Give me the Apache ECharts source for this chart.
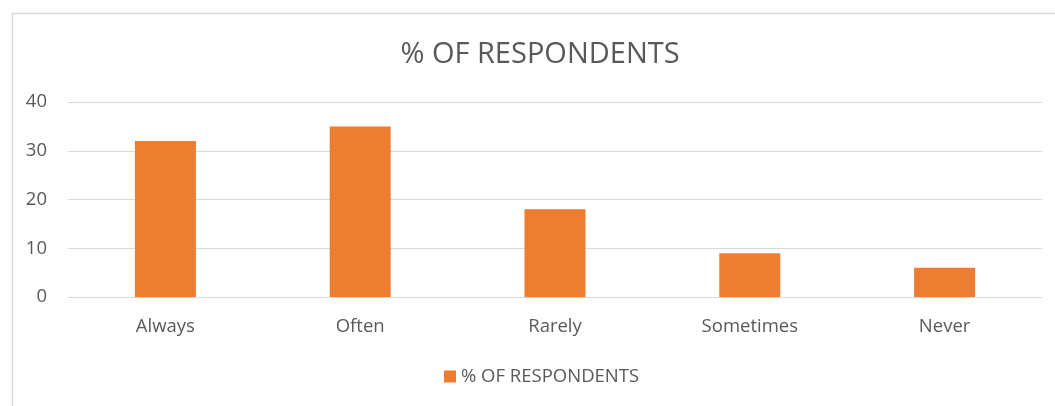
<!DOCTYPE html>
<html><head><meta charset="utf-8">
<script src="https://cdn.jsdelivr.net/npm/echarts@6/dist/echarts.min.js"></script>
<style>html,body{margin:0;padding:0;background:#fff}#c{width:1055px;height:406px}</style>
</head><body><div id="c"></div>
<script>
const categories = ['Always', 'Often', 'Rarely', 'Sometimes', 'Never'];
const seriesName = '% OF RESPONDENTS';
const values = [32, 35, 18, 9, 6];
const yTicks = { min: 0, max: 40, interval: 10 };

const chart = echarts.init(document.getElementById('c'), null, { renderer: 'canvas' });
const font = '"Open Sans", sans-serif';
chart.setOption({
  animation: false,
  graphic: [{
    type: 'rect', left: 10, top: 11, shape: { width: 1100, height: 500 },
    style: { fill: 'none', stroke: '#d9d9d9', lineWidth: 1.5 }, silent: true, z: -1
  }],
  title: {
    text: seriesName, left: 535, top: 35, textAlign: 'center',
    textStyle: { fontFamily: font, fontSize: 29, fontWeight: 'normal', color: '#595959' }
  },
  grid: { left: 68, right: 13, top: 102, bottom: 109 },
  legend: {
    top: 362, left: 439, itemWidth: 12, itemHeight: 12, itemGap: 10,
    icon: 'rect', data: [seriesName],
    textStyle: { fontFamily: font, fontSize: 18.5, color: '#595959' }
  },
  xAxis: {
    type: 'category', data: categories,
    axisLine: { show: true, lineStyle: { color: '#d9d9d9', width: 1 } },
    axisTick: { show: false },
    axisLabel: { fontFamily: font, fontSize: 18.5, color: '#595959', margin: 20 }
  },
  yAxis: {
    type: 'value', min: yTicks.min, max: yTicks.max, interval: yTicks.interval,
    axisLine: { show: false }, axisTick: { show: false },
    splitLine: { lineStyle: { color: '#d9d9d9', width: 1 } },
    axisLabel: { fontFamily: font, fontSize: 18.5, color: '#595959', margin: 21 }
  },
  series: [{
    name: seriesName, type: 'bar', data: values, barWidth: 61,
    itemStyle: { color: '#ED7D31' }
  }]
});
</script></body></html>
